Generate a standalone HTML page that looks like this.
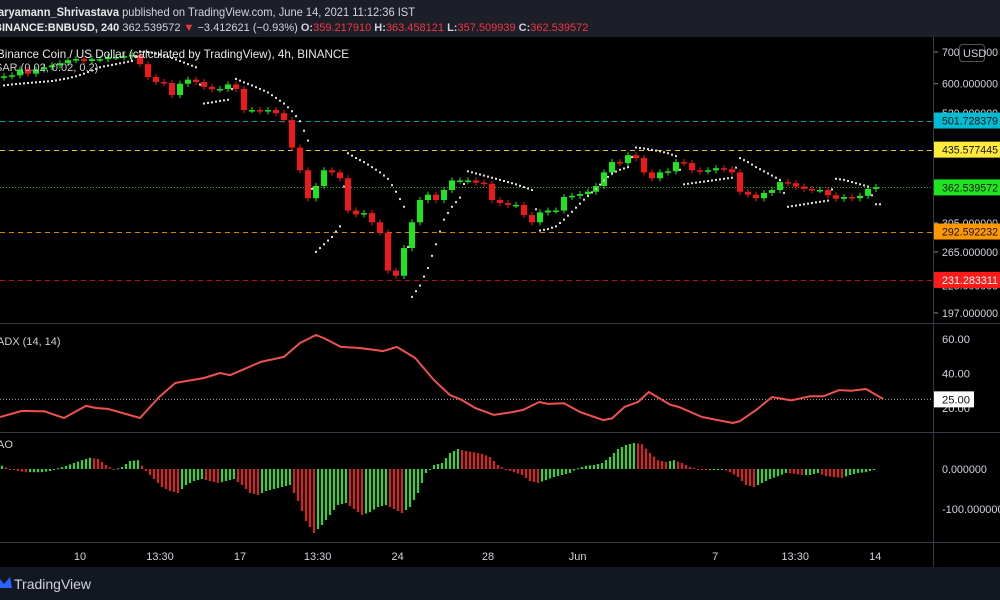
<!DOCTYPE html>
<html><head><meta charset="utf-8"><style>
html,body{margin:0;padding:0;background:#000;width:1000px;height:600px;overflow:hidden;font-family:"Liberation Sans",sans-serif}
svg{display:block}
</style></head><body>
<svg id="chart" width="1000" height="600" font-family="Liberation Sans, sans-serif">
<rect x="0" y="0" width="1000" height="600" fill="#000"/>
<rect x="0" y="0" width="1000" height="37" fill="#1c1f27"/>
<text x="-2" y="16" font-size="12" fill="#d1d4dc" textLength="417" lengthAdjust="spacingAndGlyphs"><tspan font-weight="bold" fill="#e8e8e8">aryamann_Shrivastava</tspan> published on TradingView.com, June 14, 2021 11:12:36 IST</text>
<text x="-6" y="31" font-size="11" fill="#d1d4dc"><tspan font-weight="bold" fill="#e8e8e8">BINANCE:BNBUSD, 240</tspan> 362.539572 <tspan fill="#f23645">▼</tspan> −3.412621 (−0.93%) <tspan font-weight="bold">O:</tspan><tspan fill="#f23645">359.217910</tspan> <tspan font-weight="bold">H:</tspan><tspan fill="#f23645">363.458121</tspan> <tspan font-weight="bold">L:</tspan><tspan fill="#f23645">357.509939</tspan> <tspan font-weight="bold">C:</tspan><tspan fill="#f23645">362.539572</tspan></text>
<rect x="0" y="567" width="1000" height="33" fill="#131722"/>
<path d="M0 579 L4 584 L10 577 L12 588 L0 588 Z" fill="#2962ff"/>
<text x="14" y="589" font-size="14" fill="#d1d4dc">TradingView</text>
<g id="grid"></g>
<g id="levels"></g>
<g id="candles"></g>
<g id="sar"></g>
<g id="adx"></g>
<g id="ao"></g>
<g id="axes"></g>
<text x="-3" y="58" font-size="12" fill="#e8e8e8" textLength="352" lengthAdjust="spacingAndGlyphs">Binance Coin / US Dollar (calculated by TradingView), 4h, BINANCE</text>
<text x="-5" y="71" font-size="11" fill="#cfcfcf">SAR (0.02, 0.02, 0.2)</text>
<text x="-3" y="345" font-size="11" fill="#cfcfcf">ADX (14, 14)</text>
<text x="-3" y="448" font-size="11" fill="#cfcfcf">AO</text>
</svg>
<script>
const closes=[622,625,643,630,643,650,656,663,673,676,670,676,676,683,683,686,690,660,620,605,602,568,600,612,605,591,584,585,598,585,528,528,525,528,520,503,440,394,344,365,394,390,379,324,318,320,306,291,242,236,270,306,341,350,341,358,375,375,375,371,369,341,336,333,333,317,306,321,324,324,346,348,351,355,365,390,410,408,424,418,390,379,390,392,410,408,394,392,394,398,396,390,355,350,344,353,358,372,370,364,360,358,358,349,343,346,344,348,360,363];
const firstOpen=618;
const sarVals=[595,598,600,602,604,606,608,612,616,622,630,640,650,655,660,665,670,702,700,695,688,680,670,660,650,545,548,552,555,614,604,595,585,575,560,545,525,500,455,265,275,285,300,428,418,410,400,390,378,355,330,213,225,245,275,310,330,345,392,388,384,380,376,372,368,363,358,294,296,300,310,322,335,348,360,375,388,395,400,440,438,435,432,428,422,368,370,372,374,376,378,380,418,410,400,392,384,376,330,332,334,336,338,340,378,376,372,368,364,334];
const adxT=[-0.5,2.25,5.1,7.5,10.25,11.5,13,17,19.4,21.4,25,27,28.25,30.25,32.1,35,37,39,40.1,42.1,44.5,47.4,49.1,51.4,53.75,55.75,57.25,58.9,61.25,63.6,64.9,66.9,68,70,72,74.9,76,77.6,79.25,80.6,83.25,84.4,87.25,91.1,92,94,96,98.4,100.75,102.4,104.4,105.9,107.75,109.9];
const adxVals=[14.8,18.3,18,14.2,21.2,20,19.5,14.2,26.4,34.5,37.4,40.3,39,43,46.7,49.6,57.7,62.3,60.3,55.4,54.8,53,55.4,49,36.2,27.5,24.6,20,16,17.7,18.9,23.5,22.4,22.7,17.7,13,14,20.7,23.5,29.3,22,20.5,14.8,11.3,12.4,18.8,26.4,24.4,26.8,26.8,30.4,30,31,25.2];
const aoVals=[8,0,-5,-8,-8,-8,-5,2,8,15,22,28,25,10,-2,5,20,22,-5,-25,-45,-55,-60,-40,-30,-25,-30,-35,-30,-25,-40,-60,-65,-55,-50,-45,-40,-80,-130,-160,-140,-115,-90,-85,-100,-115,-108,-95,-90,-100,-110,-95,-60,-10,10,15,40,50,45,42,38,30,10,-2,-8,-15,-30,-35,-28,-20,-15,-10,2,8,10,15,30,50,60,65,62,40,22,18,22,15,5,0,-2,-2,0,-8,-20,-40,-45,-35,-25,-18,-10,-12,-15,-15,-10,-18,-20,-22,-15,-10,-8,-2];
const priceTicks=["700.000000","600.000000","520.000000","305.000000","265.000000","225.000000","197.000000"];
const priceTickVals=[700,600,520,305,265,225,197];
const levelVals=[501.728379,435.577445,362.539572,292.592232,231.283311];
const levelColors=["#00bcd4","#ffeb3b","#1ee61e","#ff9800","#ff1a1a"];
const levelText=["#111","#111","#111","#111","#fff"];
const adxTicks=[60,40,20];
const aoTicks=[0,-100];
const timeLabels=["10","13:30","17","13:30","24","28","Jun","7","13:30","14"];
const timeLabelT=[9.5,19.5,29.5,39.2,49.2,60.5,71.7,88.9,98.9,108.9];

const NS="http://www.w3.org/2000/svg";
function mk(tag,attrs,parent){const e=document.createElementNS(NS,tag);for(const k in attrs)e.setAttribute(k,attrs[k]);parent.appendChild(e);return e;}
const xT=t=>4+8*t;
const yP=p=>52+(Math.log(700)-Math.log(p))*205.8;
const yAdx=v=>408-(v-20)*1.725;
const yAo=v=>469-v*0.4;
const G=id=>document.getElementById(id);

const axes=G('axes');
let e;
e=mk('line',{x1:0,x2:1000,y1:323.5,y2:323.5,stroke:'#363a45'},axes);


e=mk('line',{x1:0,x2:1000,y1:432.5,y2:432.5,stroke:'#363a45'},axes);


e=mk('line',{x1:0,x2:1000,y1:542.5,y2:542.5,stroke:'#363a45'},axes);


e=mk('line',{x1:933.5,x2:933.5,y1:37,y2:567,stroke:'#363a45'},axes);



const lv=G('levels');
levelVals.forEach((v,i)=>{
  const y=Math.round(yP(v))+0.5;
  const l=mk('line',{x1:0,x2:933,y1:y,y2:y,stroke:levelColors[i],'stroke-width':1,'stroke-dasharray':i==2?'1,2':'5,4',opacity:i==4?0.7:0.85},lv);
  
  
});

const cg=G('candles');
let prev=firstOpen;
closes.forEach((c,i)=>{
  const o=prev; prev=c;
  const up=c>=o; const col=up?'#1ee61e':'#f01818';
  const hi=Math.max(o,c)*1.015, lo=Math.min(o,c)*0.985;
  const x=xT(i);
  const w=mk('line',{x1:x,x2:x,y1:yP(hi),y2:yP(lo),stroke:col,'stroke-width':1},cg);
  
  
  const yt=yP(Math.max(o,c)), yb=yP(Math.min(o,c));
  const b=mk('rect',{x:x-3,y:yt,width:6,height:Math.max(1.5,yb-yt),fill:col},cg);
  
  
});
const sg=G('sar');
sarVals.forEach((v,i)=>{
  const d=mk('rect',{x:xT(i)-1,y:yP(v)-1,width:2,height:2,fill:'#e0e0e0'},sg);
  
  
  const d2=mk('rect',{x:xT(i)+3,y:yP(i+1<sarVals.length?(v+sarVals[i+1])/2:v)-1,width:2,height:2,fill:'#e0e0e0'},sg);
  
  
});

const ag=G('adx');
const l25=mk('line',{x1:0,x2:933,y1:yAdx(25),y2:yAdx(25),stroke:'#aaa','stroke-dasharray':'1,2'},ag);


const pts=adxT.map((t,i)=>xT(t).toFixed(1)+','+yAdx(adxVals[i]).toFixed(1)).join(' ');
const pl=mk('polyline',{points:pts,fill:'none',stroke:'#f05050','stroke-width':2,'stroke-linejoin':'round'},ag);



const og=G('ao');
aoVals.forEach((v,i)=>{
  const col=(i==0||v>=aoVals[i-1])?'#1ee61e':'#f01818';
  const y0=yAo(0), y1=yAo(v);
  const b=mk('rect',{x:xT(i)-3,y:Math.min(y0,y1),width:2,height:Math.max(1,Math.abs(y1-y0)),fill:col},og);
  
  
  if(i+1<aoVals.length){
    const m=(v+aoVals[i+1])/2; const y2=yAo(m);
    const col2=(aoVals[i+1]>=v)?'#1ee61e':'#f01818';
    const b2=mk('rect',{x:xT(i)+1,y:Math.min(y0,y2),width:2,height:Math.max(1,Math.abs(y2-y0)),fill:col2},og);
    
    
  }
});

function lab(txt,y,fill,name){
  const tx=mk('text',{x:942,y:y+4,'font-size':11,fill:fill,textLength:txt.length*5.6,lengthAdjust:'spacingAndGlyphs'},axes);
  tx.textContent=txt;
  
  
}
priceTicks.forEach((t,i)=>{
  const y=yP(priceTickVals[i]);
  const tk=mk('line',{x1:934,x2:938,y1:y,y2:y,stroke:'#888'},axes);
  
  
  lab(t,y,'#d1d4dc','price-tick-label');
});
const usd=mk('rect',{x:959.5,y:44.5,width:25,height:17,rx:3,fill:'#000',stroke:'#555'},axes);


const ut=mk('text',{x:963,y:57,'font-size':11,fill:'#d1d4dc'},axes);
ut.textContent='USD';


levelVals.forEach((v,i)=>{
  const y=yP(v);
  const r=mk('rect',{x:934,y:y-8,width:66,height:16,fill:levelColors[i]},axes);
  
  
  lab(v.toFixed(6),y,levelText[i],'level-price-text');
});
adxTicks.forEach(v=>{
  lab(v.toFixed(2),yAdx(v),'#d1d4dc','adx-tick-label');
});
const r25=mk('rect',{x:934,y:yAdx(25)-8,width:40,height:16,fill:'#fff'},axes);


lab('25.00',yAdx(25),'#111','adx-value-text');
aoTicks.forEach(v=>{
  lab(v.toFixed(6),yAo(v),'#d1d4dc','ao-tick-label');
});
timeLabels.forEach((t,i)=>{
  const tx=mk('text',{x:xT(timeLabelT[i]),y:560,'font-size':11,fill:'#d1d4dc','text-anchor':'middle'},axes);
  tx.textContent=t;
  
  
});
</script>
</body></html>
